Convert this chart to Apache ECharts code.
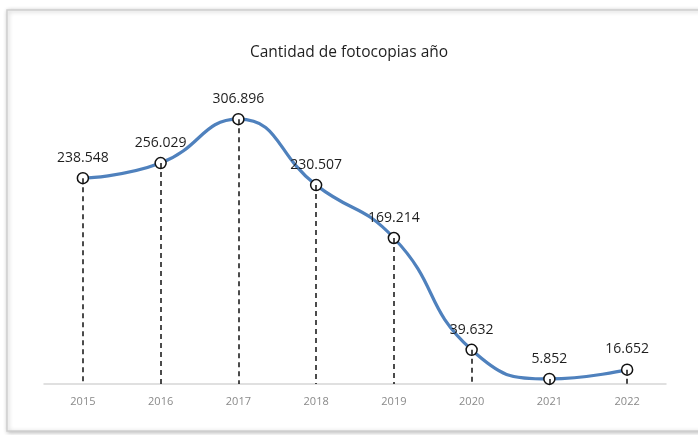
<!DOCTYPE html>
<html>
<head>
<meta charset="utf-8">
<script src="https://cdn.jsdelivr.net/npm/echarts@6/dist/echarts.min.js"></script>
<style>
html,body{margin:0;padding:0;background:#fff;}
#chart{width:698px;height:435px;}
</style>
</head>
<body>
<div id="chart"></div>
<script>
const titleText = 'Cantidad de fotocopias año';
const years = ['2015','2016','2017','2018','2019','2020','2021','2022'];
const copies = [238548, 256029, 306896, 230507, 169214, 39632, 5852, 16652];

function fmt(v){ return String(v).replace(/\B(?=(\d{3})+(?!\d))/g, '.'); }

const chart = echarts.init(document.getElementById('chart'));
chart.setOption({
  backgroundColor: '#ffffff',
  animation: false,
  graphic: [{
    type: 'rect',
    shape: { x: 7, y: 10, width: 700, height: 421 },
    style: { fill: '#ffffff', stroke: '#cfcfcf', lineWidth: 1.5,
      shadowBlur: 4, shadowColor: 'rgba(0,0,0,0.25)', shadowOffsetX: 1, shadowOffsetY: 1 },
    z: -10, silent: true
  }],
  title: {
    text: titleText,
    left: 'center',
    top: 40,
    textStyle: { fontFamily: 'Open Sans', fontSize: 15.5, fontWeight: 'normal', color: '#1e1e1e' }
  },
  grid: { left: 44, right: 32, top: 82, bottom: 51 },
  xAxis: {
    type: 'category',
    data: years,
    boundaryGap: true,
    axisLine: { lineStyle: { color: '#d6d6d6', width: 1.5 } },
    axisTick: { show: false },
    axisLabel: { color: '#8a8a8a', fontSize: 11, fontFamily: 'Open Sans', margin: 12 }
  },
  yAxis: {
    type: 'value', min: 0, max: 350000,
    show: false,
    splitLine: { show: false }
  },
  series: [{
    type: 'line',
    data: copies,
    smooth: 0.5,
    symbol: 'circle',
    symbolSize: 11,
    lineStyle: { color: '#4f81bd', width: 3.2 },
    itemStyle: { color: '#ffffff', borderColor: '#111111', borderWidth: 1.5 },
    label: {
      show: true, position: 'top', distance: 7,
      formatter: p => fmt(p.value),
      fontFamily: 'Open Sans', fontSize: 14, color: '#1e1e1e'
    },
    markLine: {
      silent: true,
      symbol: 'none',
      label: { show: false },
      lineStyle: { color: '#111111', type: [5, 4], width: 1.5 },
      data: copies.map((v, i) => [{ coord: [i, v] }, { coord: [i, 0] }])
    },
    z: 3
  }]
});
</script>
</body>
</html>
